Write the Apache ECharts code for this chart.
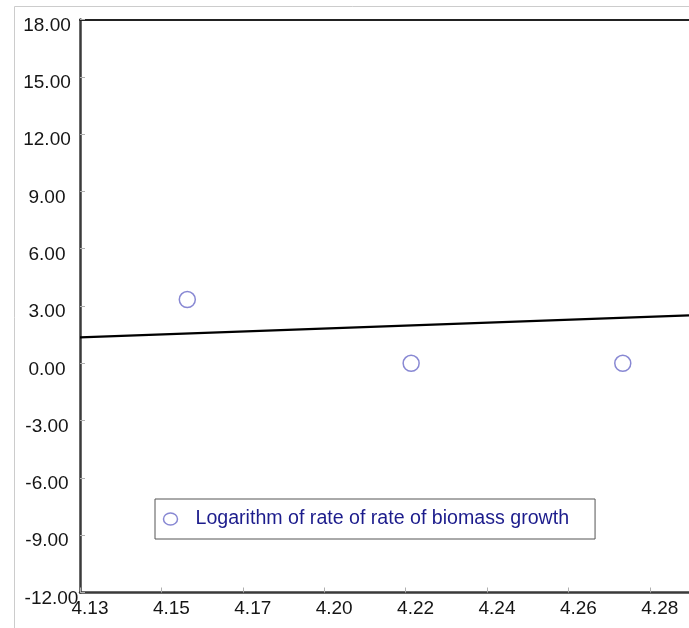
<!DOCTYPE html>
<html>
<head>
<meta charset="utf-8">
<script src="https://cdn.jsdelivr.net/npm/echarts@6/dist/echarts.min.js"></script>
<style>
  html, body { margin: 0; padding: 0; background: #ffffff; }
  #chart { width: 689px; height: 628px; }
</style>
</head>
<body>
<div id="chart"></div>
<script>
// Observed points: log of substrate level vs log of growth rate
const obsX = [4.159, 4.2195, 4.2767];
const obsY = [3.34, 0.00, 0.00];

// Fitted model line, end points across the x range
const fitX = [4.13, 4.2946];
const fitY = [1.36, 2.51];

// Axis ticks and their printed labels
const xTickValues = [4.13, 4.152, 4.174, 4.196, 4.218, 4.24, 4.262, 4.284];
const xTickLabels = ['4.13', '4.15', '4.17', '4.20', '4.22', '4.24', '4.26', '4.28'];
const yMin = -12, yMax = 18, yStep = 3;
const xMin = 4.13, xMax = 4.2946;

const seriesName = 'Logarithm of rate of rate of biomass growth';

const chart = echarts.init(document.getElementById('chart'), null, { renderer: 'canvas' });

const FONT = '"Liberation Sans", Arial, sans-serif';

function xLabel(v) {
  let best = 0;
  for (let i = 1; i < xTickValues.length; i++) {
    if (Math.abs(xTickValues[i] - v) < Math.abs(xTickValues[best] - v)) best = i;
  }
  return xTickLabels[best];
}

function yLabel(v) {
  const s = v.toFixed(2);
  return v === yMin ? '{lo|' + s + '}' : s;
}

chart.setOption({
  animation: false,
  backgroundColor: '#ffffff',
  graphic: [{
    type: 'rect',
    shape: { x: 14.5, y: 6.5, width: 800, height: 800 },
    style: { fill: 'none', stroke: '#cccccc', lineWidth: 1 },
    silent: true,
    z: -10
  }],
  grid: { left: 80, top: 19.5, right: 0, bottom: 35.5, containLabel: false },
  legend: {
    data: [{ name: seriesName }],
    left: 155,
    top: 499,
    orient: 'horizontal',
    backgroundColor: '#ffffff',
    borderColor: '#555555',
    borderWidth: 1,
    borderRadius: 0,
    padding: [9, 26, 9, 6],
    itemWidth: 14,
    itemHeight: 12,
    icon: 'path://M0,6a7,6 0 1,0 14,0a7,6 0 1,0 -14,0z',
    itemStyle: { color: 'none', borderColor: '#6a6ac8', borderWidth: 1.5 },
    textStyle: {
      fontFamily: FONT,
      fontSize: 19.6,
      color: '#1c1c8c',
      padding: [0, 0, 0, 13],
      lineHeight: 22
    }
  },
  xAxis: [{
    type: 'value',
    min: xMin,
    max: xMax,
    position: 'bottom',
    splitLine: { show: false },
    axisLine: { show: true, onZero: false, lineStyle: { color: '#3a3a3a', width: 2.5 } },
    axisTick: {
      show: true, inside: true, length: 5,
      customValues: xTickValues,
      lineStyle: { color: '#b0b0b0', width: 1 }
    },
    axisLabel: {
      show: true,
      customValues: xTickValues,
      formatter: xLabel,
      fontFamily: FONT,
      fontSize: 19,
      color: '#151515',
      margin: 7,
      padding: [0, 0, 0, 20],
      showMinLabel: true,
      showMaxLabel: true
    }
  }, {
    type: 'value',
    min: xMin,
    max: xMax,
    position: 'top',
    splitLine: { show: false },
    axisLine: { show: true, onZero: false, lineStyle: { color: '#222222', width: 2 } },
    axisTick: { show: false },
    axisLabel: { show: false }
  }],
  yAxis: {
    type: 'value',
    min: yMin,
    max: yMax,
    interval: yStep,
    splitLine: { show: false },
    axisLine: { show: true, onZero: false, lineStyle: { color: '#3a3a3a', width: 2.5 } },
    axisTick: { show: true, inside: true, length: 5, lineStyle: { color: '#b0b0b0', width: 1 } },
    axisLabel: {
      formatter: yLabel,
      fontFamily: FONT,
      fontSize: 19,
      color: '#151515',
      align: 'center',
      margin: 33,
      padding: [12, 0, 0, 0],
      showMinLabel: true,
      showMaxLabel: true,
      rich: {
        lo: {
          fontFamily: FONT,
          fontSize: 19,
          color: '#151515',
          padding: [0, 0, 0, 9]
        }
      }
    }
  },
  series: [{
    name: 'fit',
    type: 'line',
    xAxisIndex: 0,
    data: fitX.map((x, i) => [x, fitY[i]]),
    showSymbol: false,
    symbol: 'none',
    lineStyle: { color: '#000000', width: 2.2 },
    z: 2,
    silent: true
  }, {
    name: seriesName,
    type: 'scatter',
    xAxisIndex: 0,
    data: obsX.map((x, i) => [x, obsY[i]]),
    symbol: 'circle',
    symbolSize: 16,
    itemStyle: { color: 'rgba(0,0,0,0)', borderColor: '#6a6ac8', borderWidth: 1.5 },
    z: 3
  }]
});
</script>
</body>
</html>
